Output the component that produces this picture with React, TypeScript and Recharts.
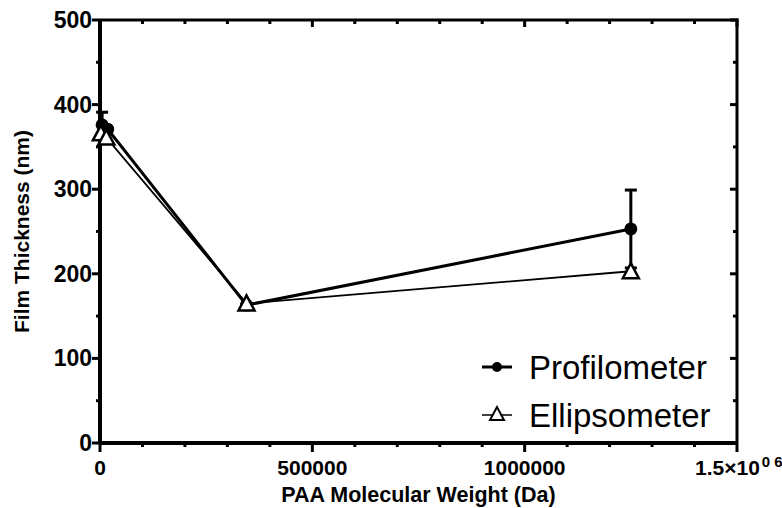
import { LineChart, Line, XAxis, YAxis, ErrorBar } from "recharts"

// Profilometer series
const profX = [5000, 18000, 345000, 1250000]
const profY = [376, 371, 163, 253]
const profErr = [15, null, null, 46]

// Ellipsometer series
const ellipX = [2000, 15000, 345000, 1250000]
const ellipY = [366, 361, 165, 203]

const xTicks = [0, 100000, 200000, 300000, 400000, 500000, 600000, 700000, 800000, 900000, 1000000, 1100000, 1200000, 1300000, 1400000, 1500000]
const yTicks = [0, 50, 100, 150, 200, 250, 300, 350, 400, 450, 500]
const xMajor = [0, 500000, 1000000, 1500000]

const profData = profX.map((x, i) => ({ x, y: profY[i], err: profErr[i] }))
const ellipData = ellipX.map((x, i) => ({ x, y: ellipY[i] }))

const FONT = "'Liberation Sans', Arial, sans-serif"

// plot box size (chart 782x508 minus axis sizes and margins)
const PLOT_W = 782 - 100 - 45
const PLOT_H = 508 - 20 - 65

// left ticks + the matching inward ticks on the right frame
function LeftTick(props: any) {
  const { x, y, payload } = props
  const v = payload.value
  const major = v % 100 === 0
  const rx = x + PLOT_W
  return (
    <g>
      <line x1={x} x2={x - (major ? 8 : 4)} y1={y} y2={y} stroke="#000" strokeWidth={3} />
      <line x1={rx} x2={rx - (major ? 7 : 4)} y1={y} y2={y} stroke="#000" strokeWidth={3} />
      {v === 500 && <line x1={x} x2={rx + 1.5} y1={y} y2={y} stroke="#000" strokeWidth={3} />}
      {major && (
        <text x={x - 8} y={y} textAnchor="end" dominantBaseline="central" fontFamily={FONT} fontWeight="bold" fontSize={23} fill="#000">
          {v}
        </text>
      )}
    </g>
  )
}

// bottom ticks + the matching inward ticks on the top frame
function BottomTick(props: any) {
  const { x, y, payload } = props
  const v = payload.value
  const major = xMajor.includes(v)
  const ty = y - PLOT_H
  return (
    <g>
      <line x1={x} x2={x} y1={y} y2={y + (major ? 9 : 4)} stroke="#000" strokeWidth={3} />
      <line x1={x} x2={x} y1={ty} y2={ty + (major ? 7 : 4)} stroke="#000" strokeWidth={3} />
      {v === 1500000 && <line x1={x} x2={x} y1={y} y2={ty - 1.5} stroke="#000" strokeWidth={3} />}
      {major && v !== 1500000 && (
        <text x={x} y={y + 32} textAnchor="middle" fontFamily={FONT} fontWeight="bold" fontSize={21} fill="#000">
          {v}
        </text>
      )}
      {v === 1500000 && (
        <text x={x - 42} y={y + 32} fontFamily={FONT} fontWeight="bold" fontSize={21} fill="#000">
          1.5×10
          <tspan dy={-8} fontSize={15} dx={2}>0 6</tspan>
        </text>
      )}
    </g>
  )
}

function Circle(props: any) {
  const { cx, cy, index } = props
  return <circle key={`c${index}`} cx={cx} cy={cy} r={6.5} fill="#000" />
}

function Triangle(props: any) {
  const { cx, cy, index } = props
  return (
    <polygon
      key={`t${index}`}
      points={`${cx},${cy - 8} ${cx - 8},${cy + 7} ${cx + 8},${cy + 7}`}
      fill="#fff"
      stroke="#000"
      strokeWidth={2.5}
    />
  )
}

function LegendBox() {
  return (
    <svg width={280} height={100} style={{ position: "absolute", left: 478, top: 345 }}>
      <line x1={4} x2={34} y1={22} y2={22} stroke="#000" strokeWidth={3} />
      <circle cx={19} cy={22} r={5} fill="#000" />
      <text x={51} y={22} dominantBaseline="central" fontFamily={FONT} fontSize={33} fill="#000">
        Profilometer
      </text>
      <line x1={4} x2={34} y1={70} y2={70} stroke="#000" strokeWidth={1.5} />
      <polygon points="19,62 12,75 26,75" fill="#fff" stroke="#000" strokeWidth={2} />
      <text x={51} y={70} dominantBaseline="central" fontFamily={FONT} fontSize={33} fill="#000">
        Ellipsometer
      </text>
    </svg>
  )
}

export default function App() {
  return (
    <div style={{ position: "absolute", left: 0, top: 0, width: 782, height: 508, background: "#fff" }}>
      <LineChart width={782} height={508} margin={{ top: 20, right: 45, left: 0, bottom: 0 }}>
        <XAxis
          type="number"
          dataKey="x"
          domain={[0, 1500000]}
          ticks={xTicks}
          interval={0}
          height={65}
          tickSize={0}
          tickMargin={0}
          tickLine={false}
          tick={<BottomTick />}
          axisLine={{ stroke: "#000", strokeWidth: 4 }}
          label={{ value: "PAA Molecular Weight (Da)", position: "insideBottom", offset: 6, fontFamily: FONT, fontWeight: "bold", fontSize: 21.5, fill: "#000" }}
        />
        <YAxis
          type="number"
          domain={[0, 500]}
          ticks={yTicks}
          interval={0}
          width={100}
          tickSize={0}
          tickMargin={0}
          tickLine={false}
          tick={<LeftTick />}
          axisLine={{ stroke: "#000", strokeWidth: 4 }}
          label={{ value: "Film Thickness (nm)", angle: -90, position: "insideLeft", offset: 22, fontFamily: FONT, fontWeight: "bold", fontSize: 21, fill: "#000", style: { textAnchor: "middle" } }}
        />
        <Line
          data={profData}
          dataKey="y"
          name="Profilometer"
          stroke="#000"
          strokeWidth={3}
          dot={Circle}
          activeDot={false}
          isAnimationActive={false}
        >
          <ErrorBar dataKey="err" direction="y" width={6} stroke="#000" strokeWidth={3} />
        </Line>
        <Line
          data={ellipData}
          dataKey="y"
          name="Ellipsometer"
          stroke="#000"
          strokeWidth={1.8}
          dot={Triangle}
          activeDot={false}
          isAnimationActive={false}
        />
      </LineChart>
      <LegendBox />
    </div>
  )
}
